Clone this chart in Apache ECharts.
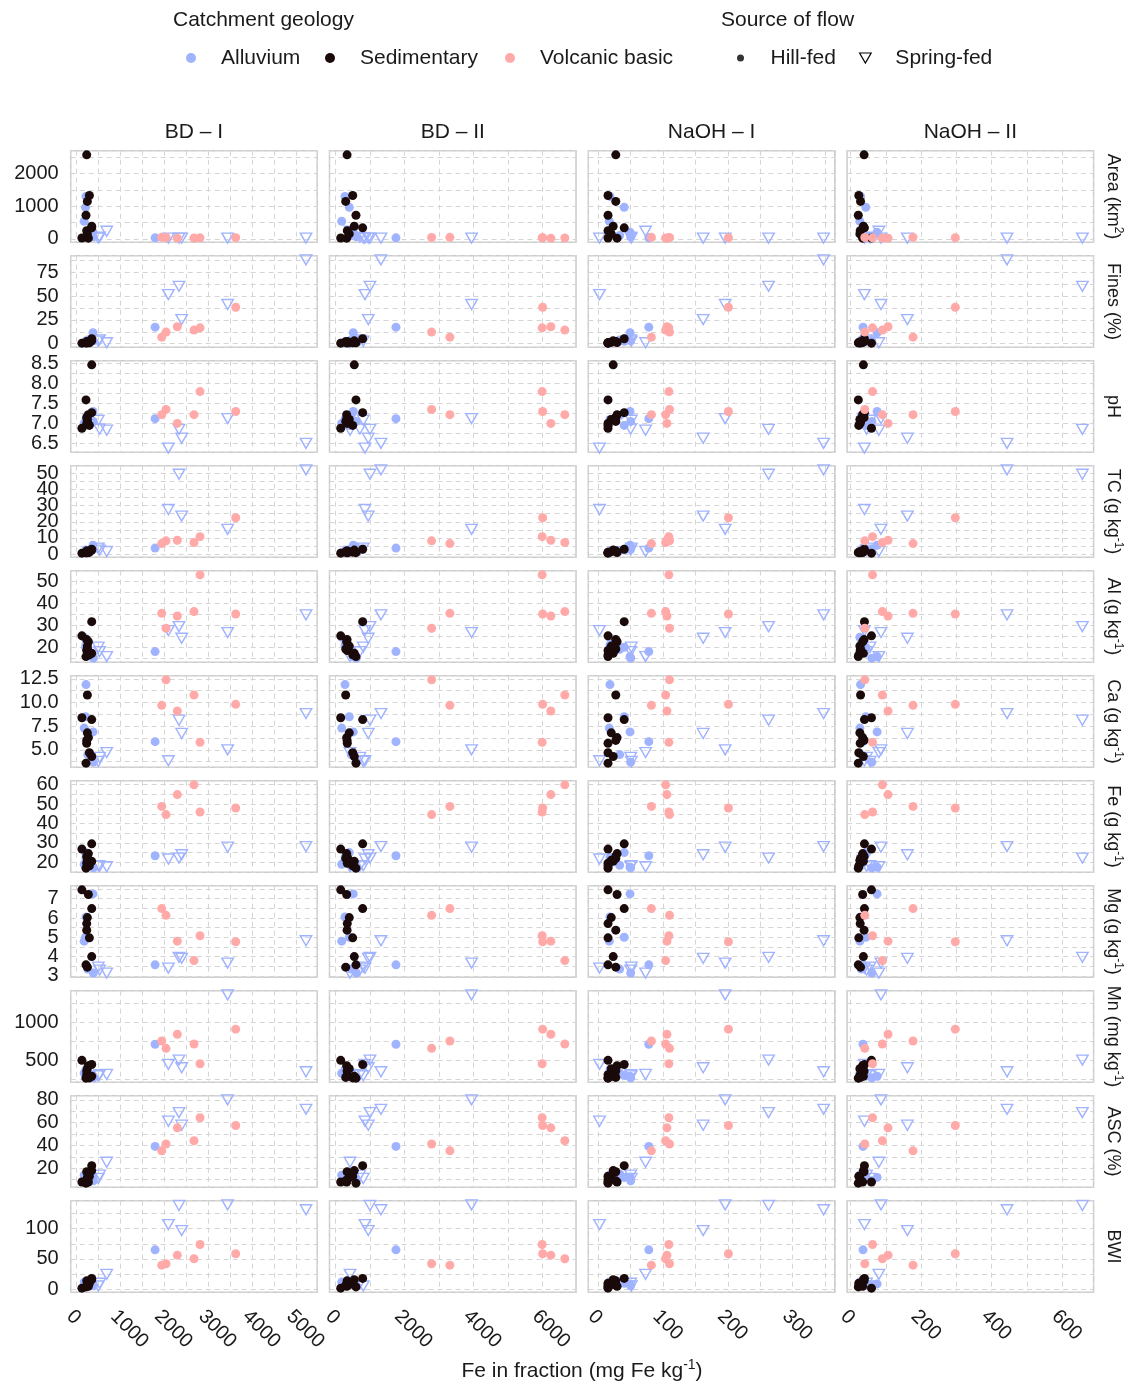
<!DOCTYPE html>
<html>
<head>
<meta charset="utf-8">
<script src="https://cdn.jsdelivr.net/npm/echarts@6/dist/echarts.min.js"></script>
<style>
  html, body { margin: 0; padding: 0; background: #ffffff; }
  #chart { width: 1129px; height: 1386px; }
</style>
</head>
<body>
<div id="chart"></div>
<script>
// ---- Sites (one entry per stream site) ----
// order: 10 sedimentary hill-fed, 7 alluvium hill-fed, 6 volcanic basic hill-fed, 8 alluvium spring-fed
const siteGeology = [
  'Sedimentary','Sedimentary','Sedimentary','Sedimentary','Sedimentary',
  'Sedimentary','Sedimentary','Sedimentary','Sedimentary','Sedimentary',
  'Alluvium','Alluvium','Alluvium','Alluvium','Alluvium','Alluvium','Alluvium',
  'Volcanic basic','Volcanic basic','Volcanic basic','Volcanic basic','Volcanic basic','Volcanic basic',
  'Alluvium','Alluvium','Alluvium','Alluvium','Alluvium','Alluvium','Alluvium','Alluvium'
];
const siteFlow = [
  'Hill-fed','Hill-fed','Hill-fed','Hill-fed','Hill-fed','Hill-fed','Hill-fed','Hill-fed','Hill-fed','Hill-fed',
  'Hill-fed','Hill-fed','Hill-fed','Hill-fed','Hill-fed','Hill-fed','Hill-fed',
  'Hill-fed','Hill-fed','Hill-fed','Hill-fed','Hill-fed','Hill-fed',
  'Spring-fed','Spring-fed','Spring-fed','Spring-fed','Spring-fed','Spring-fed','Spring-fed','Spring-fed'
];

// Fe in each extraction fraction (mg Fe kg-1)
const feBD1   = [118, 265, 341, 242, 227, 227, 288, 341, 211, 242,
                 1782, 211, 200, 170, 370, 378, 250,
                 1932, 2030, 2287, 2666, 2803, 3614,
                 5212, 2325, 2084, 3431, 2386, 491, 682, 520];
const feBD2   = [145, 318, 782, 394, 336, 330, 493, 539, 588, 290,
                 1748, 270, 394, 174, 510, 600, 450,
                 3313, 2783, 6242, 6647, 5990, 6005,
                 1313, 994, 849, 3942, 945, 800, 415, 700];
const feNaOH1 = [15, 29, 40, 20, 15, 27, 15, 23, 15, 27,
                 78, 18, 40, 17, 49, 50, 33,
                 82, 110, 106, 104, 109, 201,
                 348, 263, 1.85, 196, 162, 51, 73, 50];
const feNaOH2 = [59, 34, 39, 26, 27, 38, 23, 36, 21.6, 28,
                 35, 28, 43, 26, 75, 60, 30,
                 177, 40, 106, 90, 62, 297,
                 444, 658, 39, 86, 161, 55, 80, 45];

// Catchment and sediment properties
const area  = [25, 20, 336, 150, 250, 2580, 1330, 385, 722, 1150,
               30, 1302, 966, 538, 200, 60, 100,
               45, 40, 20, 25, 30, 35,
               20, 20, 20, 20, 20, 25, 232, 50];
const fines = [0.6, 1.2, 5.2, 1.5, 0.8, 2.2, 1.0, 3.0, 0.9, 2.0,
               17.4, 1.5, 2.5, 0.8, 11.5, 3.0, 4.0,
               6.9, 12.2, 17.8, 14.3, 16.7, 38.3,
               88.1, 60.3, 51.6, 41.2, 25.4, 2.7, 1.0, 4.0];
const pH    = [6.88, 7.22, 7.27, 7.10, 7.00, 7.15, 6.95, 8.47, 7.59, 7.05,
               7.12, 7.10, 6.95, 7.00, 7.30, 7.05, 7.20,
               7.22, 7.35, 7.00, 7.22, 7.80, 7.30,
               6.50, 6.85, 6.38, 7.12, 6.63, 7.08, 6.83, 6.86];
const tc    = [0.6, 1.0, 3.0, 1.5, 0.8, 2.0, 1.2, 2.5, 0.9, 1.5,
               3.7, 2.0, 2.5, 1.0, 5.5, 3.0, 2.2,
               6.5, 8.2, 8.6, 7.2, 10.8, 22.5,
               52.1, 49.4, 27.6, 15.3, 23.5, 3.7, 1.6, 2.5];
const al    = [25.2, 22.5, 31.7, 20.5, 18.5, 23.5, 16.5, 17.2, 15.7, 19.2,
               18.0, 21.0, 20.0, 24.5, 15.7, 15.0, 19.0,
               35.5, 28.7, 34.3, 36.3, 53.1, 35.2,
               34.8, 29.4, 27.6, 26.7, 24.1, 20.0, 15.7, 18.0];
const ca    = [8.4, 6.3, 8.2, 6.8, 5.7, 6.0, 4.7, 4.3, 3.6, 10.8,
               5.87, 11.9, 8.5, 7.3, 6.9, 3.7, 4.5,
               9.71, 12.4, 9.11, 10.8, 5.8, 9.81,
               8.84, 8.14, 3.85, 5.0, 6.74, 3.78, 4.72, 4.2];
const fe    = [26.8, 24.5, 29.5, 21.0, 19.5, 23.0, 18.2, 20.5, 17.0, 22.0,
               23.4, 22.5, 25.0, 19.0, 17.5, 17.2, 18.5,
               48.8, 44.6, 54.9, 59.9, 45.9, 48.0,
               28.1, 22.2, 21.7, 27.8, 23.9, 18.3, 17.7, 18.0];
const mg    = [7.46, 7.22, 6.49, 6.02, 5.71, 5.37, 4.97, 4.00, 3.57, 3.45,
               3.57, 6.05, 5.00, 4.80, 7.25, 3.15, 3.35,
               6.49, 6.14, 4.80, 3.79, 5.08, 4.77,
               4.82, 3.96, 3.40, 3.66, 3.91, 3.45, 3.14, 3.30];
const mn    = [500, 430, 445, 390, 310, 360, 268, 290, 265, 275,
               712, 380, 300, 330, 290, 270, 335,
               756, 659, 845, 716, 455, 912,
               349, 504, 447, 1365, 402, 296, 314, 310];
const asc   = [8, 8, 22.3, 12, 10, 17, 13, 18, 7, 9,
               39.2, 10, 12, 14, 12, 9, 15,
               35.3, 41.3, 55.5, 44.2, 64.3, 57.5,
               71.7, 68.8, 61.3, 80.0, 57.8, 11.1, 25.3, 14];
const bwi   = [2, 5, 18, 8, 6, 14, 10, 16, 4, 7,
               65, 8, 10, 12, 9, 6, 13,
               39.8, 42.1, 56.3, 50.3, 73.8, 58.5,
               131, 138, 106.6, 139, 96.7, 5.5, 24.6, 10];

// Facet labels and tick spacing
const fractionLabels = ['BD – I', 'BD – II', 'NaOH – I', 'NaOH – II'];
const xTickStep = [1000, 2000, 100, 200];
const propertyLabels = ['Area (km{s|2})', 'Fines (%)', 'pH', 'TC (g kg{s|-1})', 'Al (g kg{s|-1})',
  'Ca (g kg{s|-1})', 'Fe (g kg{s|-1})', 'Mg (g kg{s|-1})', 'Mn (mg kg{s|-1})', 'ASC (%)', 'BWI'];
const yTickStep = [1000, 25, 0.5, 10, 10, 2.5, 10, 1, 500, 20, 50];
const yTickDecimals = [0, 0, 1, 0, 0, 1, 0, 0, 0, 0, 0];

// ---- Styling / layout ----
const FONT = "'Liberation Sans', Arial, sans-serif";
const TEXT = '#1a1a1a';
const BLUE = '#a0b3ff';
const DARK = '#1a0a0a';
const PINK = '#ffaaa8';
const colLeft = [70.7, 329.5, 588.3, 847.1];
const panelW = 246.5;
const rowTop0 = 150.7, rowPitch = 105, panelH = 91.6;

const xCols = [feBD1, feBD2, feNaOH1, feNaOH2];
const yRows = [area, fines, pH, tc, al, ca, fe, mg, mn, asc, bwi];

function expanded(arr) {
  const lo = Math.min.apply(null, arr), hi = Math.max.apply(null, arr);
  const pad = 0.05 * (hi - lo);
  return [lo - pad, hi + pad];
}
function tickFormatter(step, dec) {
  return function (v) {
    const k = v / step;
    if (Math.abs(k - Math.round(k)) < 1e-6) return (Math.round(k) * step).toFixed(dec);
    return '';
  };
}

const groups = [
  { name: 'Spring-fed', geo: 'Alluvium', flow: 'Spring-fed', symbol: 'triangle', symbolRotate: 180, symbolSize: [11.5, 10],
    itemStyle: { color: 'rgba(255,255,255,0)', borderColor: BLUE, borderWidth: 1.4, opacity: 1 } },
  { name: 'Alluvium', geo: 'Alluvium', flow: 'Hill-fed', symbol: 'circle', symbolSize: 9, itemStyle: { color: BLUE, opacity: 1 } },
  { name: 'Sedimentary', geo: 'Sedimentary', flow: 'Hill-fed', symbol: 'circle', symbolSize: 9, itemStyle: { color: DARK, opacity: 1 } },
  { name: 'Volcanic basic', geo: 'Volcanic basic', flow: 'Hill-fed', symbol: 'circle', symbolSize: 9, itemStyle: { color: PINK, opacity: 1 } }
];

const grids = [], xAxes = [], yAxes = [], series = [];
const gridLine = { show: true, lineStyle: { color: '#d5d5d5', width: 1, type: [5, 4] } };

for (let r = 0; r < yRows.length; r++) {
  const yExt = expanded(yRows[r]);
  for (let c = 0; c < xCols.length; c++) {
    const g = r * xCols.length + c;
    const xExt = expanded(xCols[c]);
    grids.push({
      left: colLeft[c], top: rowTop0 + r * rowPitch, width: panelW, height: panelH,
      show: true, borderColor: '#cbcbcb', borderWidth: 1.5, backgroundColor: '#ffffff'
    });
    xAxes.push({
      gridIndex: g, type: 'value', min: xExt[0], max: xExt[1],
      minInterval: xTickStep[c] / 2, maxInterval: xTickStep[c] / 2,
      axisLine: { show: false }, axisTick: { show: false },
      axisLabel: {
        show: r === yRows.length - 1, rotate: -45, margin: 14, verticalAlign: 'top',
        fontSize: 20, color: TEXT, fontFamily: FONT,
        formatter: tickFormatter(xTickStep[c], 0)
      },
      splitLine: gridLine
    });
    yAxes.push({
      gridIndex: g, type: 'value', min: yExt[0], max: yExt[1],
      minInterval: yTickStep[r] / 2, maxInterval: yTickStep[r] / 2,
      axisLine: { show: false }, axisTick: { show: false },
      axisLabel: {
        show: c === 0, margin: 12, fontSize: 20, color: TEXT, fontFamily: FONT,
        formatter: tickFormatter(yTickStep[r], yTickDecimals[r])
      },
      splitLine: gridLine
    });
    groups.forEach(function (gr) {
      const data = [];
      for (let i = 0; i < siteGeology.length; i++) {
        if (siteGeology[i] === gr.geo && siteFlow[i] === gr.flow) data.push([xCols[c][i], yRows[r][i]]);
      }
      series.push({
        type: 'scatter', name: gr.name, xAxisIndex: g, yAxisIndex: g,
        symbol: gr.symbol, symbolSize: gr.symbolSize, symbolRotate: gr.symbolRotate || 0,
        itemStyle: gr.itemStyle, data: data, silent: true, animation: false,
        emphasis: { disabled: true }
      });
    });
  }
}
// legend entry for hill-fed sites (shape key only)
series.push({ type: 'scatter', name: 'Hill-fed', xAxisIndex: 0, yAxisIndex: 0, data: [], itemStyle: { color: '#000' } });

// ---- Legends ----
function legendItem(item, left, itemHeight) {
  return {
    data: [item], left: left, top: 58 - 12, padding: 0, itemWidth: 50, itemHeight: itemHeight,
    selectedMode: false, textStyle: { fontSize: 21, color: TEXT, fontFamily: FONT, lineHeight: 24 }
  };
}
const legends = [
  legendItem({ name: 'Alluvium', icon: 'circle' }, 186, 10),
  legendItem({ name: 'Sedimentary', icon: 'circle' }, 325, 10),
  legendItem({ name: 'Volcanic basic', icon: 'circle' }, 505, 10),
  legendItem({ name: 'Hill-fed', icon: 'circle', itemStyle: { color: '#000' } }, 737, 7),
  legendItem({ name: 'Spring-fed', icon: 'path://M0,0L12,0L6,10.4Z',
               itemStyle: { color: 'rgba(255,255,255,0)', borderColor: '#000', borderWidth: 1.2 } }, 859, 10)
];

// ---- Text elements: legend titles, facet strips, axis title ----
const graphics = [
  { type: 'text', left: 173, top: 10, style: { text: 'Catchment geology', fontSize: 21, fill: TEXT, fontFamily: FONT } },
  { type: 'text', left: 721, top: 10, style: { text: 'Source of flow', fontSize: 21, fill: TEXT, fontFamily: FONT } }
];
fractionLabels.forEach(function (t, c) {
  graphics.push({ type: 'text', x: colLeft[c] + panelW / 2, y: 132,
    style: { text: t, fontSize: 21, fill: TEXT, fontFamily: FONT, align: 'center', verticalAlign: 'middle' } });
});
propertyLabels.forEach(function (t, r) {
  graphics.push({ type: 'text', x: 1113, y: rowTop0 + r * rowPitch + panelH / 2, rotation: -Math.PI / 2,
    style: { text: t, fontSize: 18, fill: TEXT, fontFamily: FONT, align: 'center', verticalAlign: 'middle',
      rich: { s: { fontSize: 12, fill: TEXT, fontFamily: FONT, padding: [0, 0, 10, 0] } } } });
});
graphics.push({ type: 'text', x: 582, y: 1371,
  style: { text: 'Fe in fraction (mg Fe kg{s|-1})', fontSize: 21, fill: TEXT, fontFamily: FONT,
    align: 'center', verticalAlign: 'middle',
    rich: { s: { fontSize: 14, fill: TEXT, fontFamily: FONT, padding: [0, 0, 12, 0] } } } });

const chart = echarts.init(document.getElementById('chart'), null, { renderer: 'canvas' });
chart.setOption({
  backgroundColor: '#ffffff',
  animation: false,
  textStyle: { fontFamily: FONT },
  grid: grids, xAxis: xAxes, yAxis: yAxes,
  legend: legends,
  series: series,
  graphic: graphics
});
</script>
</body>
</html>
